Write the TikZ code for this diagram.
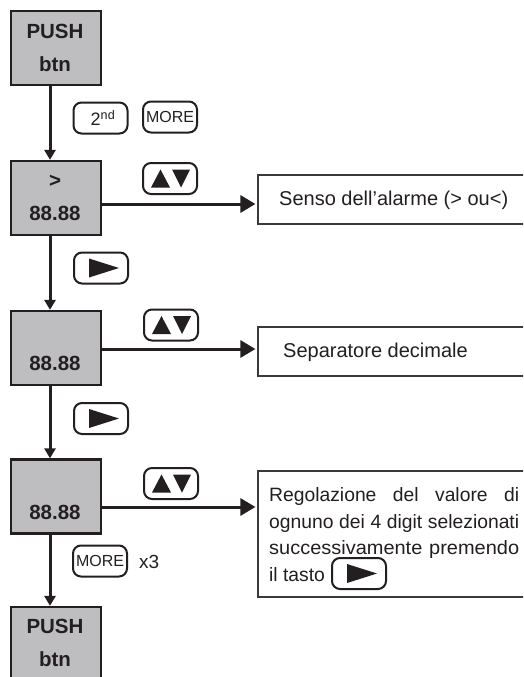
\documentclass[tikz,border=0pt]{standalone}
\usepackage{fontspec}
\setmainfont{Liberation Sans}
\usetikzlibrary{arrows.meta}
\definecolor{ink}{HTML}{231F20}
\definecolor{boxgray}{RGB}{190,190,192}
\definecolor{frame}{HTML}{3A3A3A}
\begin{document}
\begin{tikzpicture}[x=1pt,y=-1pt,
  graybox/.style={draw=ink,fill=boxgray,line width=2.2pt,minimum width=90pt,minimum height=74pt,inner sep=0pt},
  boxtext/.style={text=ink,font=\fontsize{20.5}{24}\selectfont\bfseries,inner sep=0pt,anchor=base},
  infobox/.style={draw=frame,line width=1.2pt,minimum width=273pt,inner sep=0pt},
  infotext/.style={text=ink,font=\fontsize{20}{24}\selectfont,inner sep=0pt,anchor=base west},
  keybtn/.style={draw=ink,line width=2pt,rounded corners=8pt,minimum width=54pt,minimum height=31pt,inner sep=0pt,text=ink,font=\fontsize{16}{18}\selectfont},
  updown/.style={keybtn,path picture={
    \fill[ink,sharp corners] ([xshift=-19pt,yshift=-9pt]path picture bounding box.center) -- ++(19pt,0pt) -- ++(-9.5pt,18pt) -- cycle;
    \fill[ink,sharp corners] ([xshift=2pt,yshift=9pt]path picture bounding box.center) -- ++(18pt,0pt) -- ++(-9pt,-18pt) -- cycle;}},
  rightkey/.style={keybtn,path picture={
    \fill[ink,sharp corners] ([xshift=-12pt,yshift=9.5pt]path picture bounding box.center) -- ++(30pt,-9.5pt) -- ++(-30pt,-9.5pt) -- cycle;}},
  varr/.style={draw=ink,line width=3pt,-{Triangle[width=11pt,length=10pt]}},
  harr/.style={draw=ink,line width=3pt,-{Triangle[width=17pt,length=15pt]},shorten >=2pt},
]
\clip (0,0) rectangle (523,677);
\fill[white] (0,0) rectangle (523,677);

% gray display boxes
\node[graybox] (b1) at (56,48) {};
\node[graybox] (b2) at (56,198) {};
\node[graybox] (b3) at (56,348) {};
\node[graybox] (b4) at (56,496.5) {};
\node[graybox] (b5) at (56,644) {};

\node[boxtext] (t1a) at (55,38.3) {PUSH};
\node[boxtext] (t1b) at (55,71) {btn};
\node[boxtext] (t2a) at (55,187) {>};
\node[boxtext] (t2b) at (55,220) {88.88};
\node[boxtext] (t3) at (55,370) {88.88};
\node[boxtext] (t4) at (55,519) {88.88};
\node[boxtext] (t5a) at (55,633) {PUSH};
\node[boxtext] (t5b) at (55,666) {btn};

% info boxes
\node[infobox,minimum height=49pt] (ra) at (394.5,199.5) {};
\node[infobox,minimum height=49pt] (rb) at (394.5,351.5) {};
\node[infobox,minimum height=126pt] (rc) at (394.5,534) {};

\node[infotext] (ta) at (279,205) {Senso dell’alarme (> ou<)};
\node[infotext] (tb) at (283,357) {Separatore decimale};
\node[infotext,font=\fontsize{19.3}{26.5}\selectfont] (tc) at (269,501.5) {\parbox[t]{250pt}{%
  \makebox[250pt][s]{Regolazione del valore di}\\
  \makebox[250pt][s]{ognuno dei 4 digit selezionati}\\
  \makebox[250pt][s]{\addfontfeatures{FakeStretch=1.035}successivamente premendo}\\
  il tasto}};

% keys
\node[keybtn,font=\fontsize{18}{20}\selectfont] (k2nd) at (100.5,118) {\hspace{5pt}2\textsuperscript{nd}};
\node[keybtn] (kmore1) at (170,117) {MORE};
\node[updown] (ud2) at (170,178.5) {};
\node[rightkey] (rk1) at (101,268) {};
\node[updown] (ud3) at (171,325) {};
\node[rightkey] (rk2) at (101,418.5) {};
\node[updown] (ud4) at (171,483.5) {};
\node[keybtn] (kmore2) at (100,561) {MORE};
\node[infotext,font=\fontsize{19}{22}\selectfont] (x3) at (139,568) {x3};
\node[rightkey] (rk3) at (359,573.5) {};

% connectors
\draw[varr] (b1.south -| 50,0) -- (b2.north -| 50,0);
\draw[varr] (b2.south -| 50,0) -- (b3.north -| 50,0);
\draw[varr] (b3.south -| 50,0) -- (b4.north -| 50,0);
\draw[varr] (b4.south -| 50,0) -- (b5.north -| 50,0);
\draw[harr] (b2.east |- 0,204) -- (ra.west |- 0,204);
\draw[harr] (b3.east |- 0,349) -- (rb.west |- 0,349);
\draw[harr] (b4.east |- 0,507) -- (rc.west |- 0,507);
\end{tikzpicture}
\end{document}
